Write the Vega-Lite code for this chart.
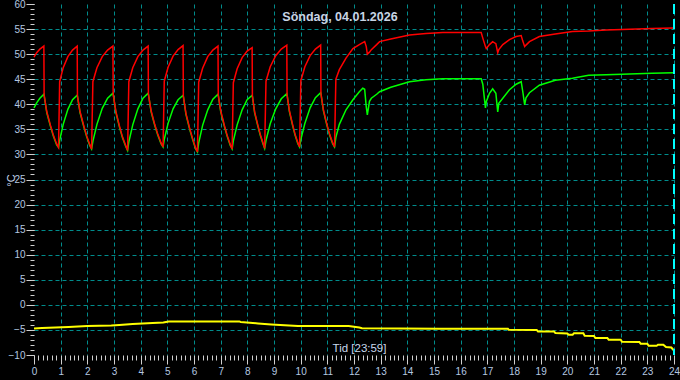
{
  "$schema": "https://vega.github.io/schema/vega-lite/v6.json",
  "width": 640,
  "height": 351,
  "autosize": {"type": "none"},
  "padding": {"left": 34, "top": 4, "right": 6, "bottom": 25},
  "background": "#000000",
  "config": {"view": {"stroke": null}},
  "title": {"text": "Söndag, 04.01.2026", "color": "#c8d4e4", "font": "Liberation Sans", "fontSize": 12.5, "fontWeight": "bold", "anchor": "middle", "frame": "group", "orient": "top", "baseline": "middle", "offset": -13.5, "dx": -14, "dy": 17},
  "datasets": {
    "rg": [
      {"t": 0, "r": 49.4, "g": 39.3}, {"t": 0.1, "r": 50.3, "g": 40.3}, {"t": 0.22, "r": 51.0, "g": 41.2}, {"t": 0.37, "r": 51.6, "g": 42.0}, {"t": 0.38, "r": 41.8, "g": 41.8}, {"t": 0.48, "r": 38.5, "g": 38.3}, {"t": 0.618, "r": 35.8, "g": 35.6}, {"t": 0.728, "r": 33.8, "g": 33.6}, {"t": 0.849, "r": 32.1, "g": 31.9},
      {"t": 0.92, "r": 31.4, "g": 31.4}, {"t": 0.962, "r": 44.5, "g": 32.8}, {"t": 1.095, "r": 47.3, "g": 36.0}, {"t": 1.27, "r": 49.5, "g": 39.0}, {"t": 1.445, "r": 50.8, "g": 40.9}, {"t": 1.62, "r": 51.6, "g": 41.8}, {"t": 1.63, "r": 41.6, "g": 41.6}, {"t": 1.728, "r": 38.5, "g": 38.3}, {"t": 1.863, "r": 35.8, "g": 35.6}, {"t": 1.971, "r": 33.8, "g": 33.6}, {"t": 2.09, "r": 32.0, "g": 31.8},
      {"t": 2.16, "r": 31.1, "g": 31.1}, {"t": 2.208, "r": 44.5, "g": 32.6}, {"t": 2.36, "r": 47.3, "g": 36.0}, {"t": 2.56, "r": 49.5, "g": 39.2}, {"t": 2.76, "r": 50.8, "g": 41.2}, {"t": 2.96, "r": 51.6, "g": 42.2}, {"t": 2.97, "r": 42.0, "g": 42.0}, {"t": 3.07, "r": 38.6, "g": 38.4}, {"t": 3.208, "r": 35.6, "g": 35.4}, {"t": 3.318, "r": 33.5, "g": 33.3}, {"t": 3.439, "r": 31.8, "g": 31.6},
      {"t": 3.51, "r": 30.8, "g": 30.8}, {"t": 3.556, "r": 44.5, "g": 32.5}, {"t": 3.703, "r": 47.3, "g": 35.9}, {"t": 3.895, "r": 49.5, "g": 39.1}, {"t": 4.088, "r": 50.8, "g": 41.2}, {"t": 4.28, "r": 51.6, "g": 42.2}, {"t": 4.29, "r": 42.0, "g": 42.0}, {"t": 4.392, "r": 38.7, "g": 38.5}, {"t": 4.532, "r": 35.9, "g": 35.7}, {"t": 4.644, "r": 34.0, "g": 33.8}, {"t": 4.767, "r": 32.3, "g": 32.1},
      {"t": 4.84, "r": 31.5, "g": 31.5}, {"t": 4.885, "r": 44.6, "g": 33.0}, {"t": 5.028, "r": 47.4, "g": 36.2}, {"t": 5.215, "r": 49.6, "g": 39.1}, {"t": 5.403, "r": 50.9, "g": 40.9}, {"t": 5.59, "r": 51.7, "g": 41.8}, {"t": 5.6, "r": 41.6, "g": 41.6}, {"t": 5.698, "r": 38.2, "g": 38.0}, {"t": 5.833, "r": 35.3, "g": 35.1}, {"t": 5.941, "r": 33.3, "g": 33.1}, {"t": 6.06, "r": 31.3, "g": 31.1},
      {"t": 6.13, "r": 30.5, "g": 30.5}, {"t": 6.176, "r": 44.4, "g": 32.3}, {"t": 6.323, "r": 47.2, "g": 35.8}, {"t": 6.515, "r": 49.5, "g": 38.9}, {"t": 6.708, "r": 50.8, "g": 41.0}, {"t": 6.9, "r": 51.6, "g": 42.0}, {"t": 6.91, "r": 41.8, "g": 41.8}, {"t": 7.006, "r": 38.6, "g": 38.4}, {"t": 7.139, "r": 35.8, "g": 35.6}, {"t": 7.245, "r": 33.8, "g": 33.6}, {"t": 7.361, "r": 32.0, "g": 31.8},
      {"t": 7.43, "r": 31.1, "g": 31.1}, {"t": 7.475, "r": 44.3, "g": 32.7}, {"t": 7.618, "r": 47.1, "g": 35.9}, {"t": 7.805, "r": 49.3, "g": 38.9}, {"t": 7.993, "r": 50.6, "g": 40.9}, {"t": 8.18, "r": 51.3, "g": 41.8}, {"t": 8.19, "r": 41.6, "g": 41.6}, {"t": 8.274, "r": 38.5, "g": 38.3}, {"t": 8.392, "r": 35.9, "g": 35.7}, {"t": 8.486, "r": 34.0, "g": 33.8}, {"t": 8.589, "r": 32.3, "g": 32.1},
      {"t": 8.65, "r": 31.2, "g": 31.2}, {"t": 8.7, "r": 44.6, "g": 32.8}, {"t": 8.858, "r": 47.5, "g": 36.1}, {"t": 9.065, "r": 49.7, "g": 39.1}, {"t": 9.273, "r": 51.0, "g": 41.1}, {"t": 9.48, "r": 51.8, "g": 42.1}, {"t": 9.49, "r": 41.9, "g": 41.9}, {"t": 9.576, "r": 38.8, "g": 38.6}, {"t": 9.696, "r": 36.0, "g": 35.8}, {"t": 9.792, "r": 34.0, "g": 33.8}, {"t": 9.898, "r": 32.3, "g": 32.1},
      {"t": 9.96, "r": 31.5, "g": 31.5}, {"t": 10.007, "r": 44.7, "g": 33.0}, {"t": 10.158, "r": 47.5, "g": 36.2}, {"t": 10.355, "r": 49.7, "g": 39.3}, {"t": 10.553, "r": 51.0, "g": 41.3}, {"t": 10.75, "r": 51.8, "g": 42.3}, {"t": 10.76, "r": 42.1, "g": 42.1}, {"t": 10.854, "r": 38.9, "g": 38.7}, {"t": 10.984, "r": 36.0, "g": 35.8}, {"t": 11.088, "r": 34.0, "g": 33.8}, {"t": 11.202, "r": 32.3, "g": 32.1},
      {"t": 11.27, "r": 31.5, "g": 31.5}, {"t": 11.32, "r": 45.0, "g": 33.4}, {"t": 11.45, "r": 46.9, "g": 36.0}, {"t": 11.7, "r": 49.2, "g": 38.9}, {"t": 11.96, "r": 51.1, "g": 40.9}, {"t": 12.2, "r": 51.9, "g": 42.5}, {"t": 12.33, "r": 52.3, "g": 43.2}, {"t": 12.4, "r": 52.5, "g": 43.0}, {"t": 12.46, "r": 51.5, "g": 39.5}, {"t": 12.5, "r": 50.0, "g": 37.9}, {"t": 12.58, "r": 50.4, "g": 40.6}, {"t": 12.65, "r": 50.9, "g": 41.2}, {"t": 12.85, "r": 51.9, "g": 42.0}, {"t": 12.96, "r": 52.5, "g": 42.5}, {"t": 13.38, "r": 53.0, "g": 43.4}, {"t": 14.08, "r": 53.8, "g": 44.5}, {"t": 14.7, "r": 54.1, "g": 44.9}, {"t": 15.33, "r": 54.3, "g": 45.1}, {"t": 16.0, "r": 54.3, "g": 45.1}, {"t": 16.77, "r": 54.3, "g": 45.1},
      {"t": 16.83, "r": 53.2, "g": 44.0}, {"t": 16.93, "r": 51.5, "g": 39.3}, {"t": 16.96, "r": 51.1, "g": 40.5}, {"t": 17.08, "r": 51.9, "g": 42.2}, {"t": 17.2, "r": 52.5, "g": 43.1}, {"t": 17.32, "r": 52.1, "g": 42.2}, {"t": 17.39, "r": 50.3, "g": 38.5}, {"t": 17.43, "r": 50.9, "g": 40.2}, {"t": 17.58, "r": 51.9, "g": 41.2}, {"t": 17.83, "r": 52.9, "g": 42.9}, {"t": 18.08, "r": 53.5, "g": 44.0}, {"t": 18.27, "r": 53.7, "g": 44.5}, {"t": 18.33, "r": 52.6, "g": 42.5}, {"t": 18.4, "r": 51.5, "g": 39.9}, {"t": 18.45, "r": 51.8, "g": 41.3}, {"t": 18.58, "r": 52.5, "g": 42.3}, {"t": 18.95, "r": 53.5, "g": 43.8}, {"t": 19.55, "r": 54.0, "g": 44.8}, {"t": 20.19, "r": 54.5, "g": 45.2}, {"t": 20.8, "r": 54.6, "g": 45.8}, {"t": 21.45, "r": 54.8, "g": 45.9}, {"t": 22.05, "r": 54.9, "g": 46.0}, {"t": 23.18, "r": 55.1, "g": 46.2}, {"t": 23.98, "r": 55.2, "g": 46.3}
    ],
    "ye": [
      {"t": 0, "v": -4.7}, {"t": 0.3, "v": -4.6}, {"t": 1.3, "v": -4.4}, {"t": 2.0, "v": -4.2}, {"t": 2.9, "v": -4.1}, {"t": 3.2, "v": -4.0}, {"t": 3.7, "v": -3.8}, {"t": 4.45, "v": -3.6}, {"t": 4.85, "v": -3.5}, {"t": 5.05, "v": -3.3}, {"t": 7.7, "v": -3.3}, {"t": 7.75, "v": -3.4}, {"t": 8.4, "v": -3.7}, {"t": 8.9, "v": -3.9}, {"t": 9.9, "v": -4.2}, {"t": 11.8, "v": -4.2}, {"t": 12.2, "v": -4.5}, {"t": 12.3, "v": -4.65}, {"t": 15.2, "v": -4.75}, {"t": 17.77, "v": -4.75}, {"t": 17.8, "v": -4.95}, {"t": 18.85, "v": -5.0}, {"t": 18.9, "v": -5.3}, {"t": 19.5, "v": -5.3}, {"t": 19.55, "v": -5.6}, {"t": 20.0, "v": -5.7}, {"t": 20.05, "v": -5.95}, {"t": 20.2, "v": -5.95}, {"t": 20.25, "v": -5.65}, {"t": 20.6, "v": -5.65}, {"t": 20.65, "v": -6.15}, {"t": 21.0, "v": -6.2}, {"t": 21.05, "v": -6.6}, {"t": 21.5, "v": -6.6}, {"t": 21.55, "v": -6.95}, {"t": 22.0, "v": -6.95}, {"t": 22.05, "v": -7.35}, {"t": 22.7, "v": -7.4}, {"t": 22.75, "v": -7.75}, {"t": 23.0, "v": -7.75}, {"t": 23.05, "v": -8.15}, {"t": 23.35, "v": -8.15}, {"t": 23.4, "v": -7.95}, {"t": 23.6, "v": -7.95}, {"t": 23.7, "v": -8.4}, {"t": 23.9, "v": -8.5}, {"t": 23.98, "v": -9.0}
    ]
  },
  "resolve": {"axis": {"x": "independent", "y": "independent"}},
  "layer": [
    {
      "data": {"name": "rg"},
      "mark": {"type": "line", "color": "#00ff00", "strokeWidth": 1.5},
      "encoding": {
        "x": {"field": "t", "type": "quantitative", "scale": {"domain": [0, 24], "nice": false, "zero": false},
          "axis": {"orient": "bottom", "values": [0,1,2,3,4,5,6,7,8,9,10,11,12,13,14,15,16,17,18,19,20,21,22,23,24], "domain": false, "tickColor": "#d0d0d0", "tickSize": 9, "labelColor": "#b4c8e0", "labelFont": "Liberation Sans", "labelFontSize": 10, "labelPadding": 2, "labelFlush": false, "labelOverlap": false, "grid": true, "gridColor": "#008c8c", "gridDash": [4, 3], "gridWidth": 1, "gridOpacity": {"condition": {"test": "datum.value == 0", "value": 0}, "value": 1}, "title": "Tid [23:59]", "titleColor": "#c8d8ec", "titleFont": "Liberation Sans", "titleFontSize": 11.5, "titleFontWeight": "normal", "titleX": 325, "titleY": -7, "titleBaseline": "middle", "titleAlign": "center"}},
        "y": {"field": "g", "type": "quantitative", "scale": {"domain": [-10, 60], "nice": false, "zero": false},
          "axis": {"orient": "left", "values": [-10,-5,0,5,10,15,20,25,30,35,40,45,50,55,60], "domain": false, "tickColor": "#d0d0d0", "tickSize": 8, "labelColor": "#b4c8e0", "labelFont": "Liberation Sans", "labelFontSize": 10, "labelPadding": 1, "labelFlush": false, "labelOverlap": false, "grid": true, "gridColor": "#008c8c", "gridDash": [4, 3], "gridWidth": 1, "gridOpacity": {"condition": {"test": "datum.value <= -10 || datum.value >= 60", "value": 0}, "value": 1}, "title": "°C", "titleColor": "#c8d8ec", "titleFont": "Liberation Sans", "titleFontSize": 11, "titleFontWeight": "normal", "titleAngle": -90, "titleX": -23, "titleY": 176, "titleBaseline": "middle", "titleAlign": "center"}}
      }
    },
    {
      "data": {"name": "rg"},
      "mark": {"type": "line", "color": "#ff0000", "strokeWidth": 1.5},
      "encoding": {
        "x": {"field": "t", "type": "quantitative", "axis": null},
        "y": {"field": "r", "type": "quantitative", "axis": null}
      }
    },
    {
      "data": {"name": "ye"},
      "mark": {"type": "line", "color": "#ffff00", "strokeWidth": 2},
      "encoding": {
        "x": {"field": "t", "type": "quantitative",
          "axis": {"orient": "bottom", "values": [0.1667,0.3333,0.5,0.6667,0.8333,1.1667,1.3333,1.5,1.6667,1.8333,2.1667,2.3333,2.5,2.6667,2.8333,3.1667,3.3333,3.5,3.6667,3.8333,4.1667,4.3333,4.5,4.6667,4.8333,5.1667,5.3333,5.5,5.6667,5.8333,6.1667,6.3333,6.5,6.6667,6.8333,7.1667,7.3333,7.5,7.6667,7.8333,8.1667,8.3333,8.5,8.6667,8.8333,9.1667,9.3333,9.5,9.6667,9.8333,10.1667,10.3333,10.5,10.6667,10.8333,11.1667,11.3333,11.5,11.6667,11.8333,12.1667,12.3333,12.5,12.6667,12.8333,13.1667,13.3333,13.5,13.6667,13.8333,14.1667,14.3333,14.5,14.6667,14.8333,15.1667,15.3333,15.5,15.6667,15.8333,16.1667,16.3333,16.5,16.6667,16.8333,17.1667,17.3333,17.5,17.6667,17.8333,18.1667,18.3333,18.5,18.6667,18.8333,19.1667,19.3333,19.5,19.6667,19.8333,20.1667,20.3333,20.5,20.6667,20.8333,21.1667,21.3333,21.5,21.6667,21.8333,22.1667,22.3333,22.5,22.6667,22.8333,23.1667,23.3333,23.5,23.6667,23.8333], "domain": false, "labels": false, "grid": false, "tickSize": 5, "tickColor": "#d0d0d0", "title": null}},
        "y": {"field": "v", "type": "quantitative",
          "axis": {"orient": "left", "tickCount": 70, "domain": false, "labels": false, "grid": false, "tickSize": 4, "tickColor": "#d0d0d0", "title": null}}
      }
    },
    {
      "data": {"values": [{"t": 24}]},
      "mark": {"type": "rule", "color": "#00ffff", "strokeWidth": 2, "strokeDash": [10, 5]},
      "encoding": {
        "x": {"field": "t", "type": "quantitative", "axis": null}
      }
    }
  ]
}
